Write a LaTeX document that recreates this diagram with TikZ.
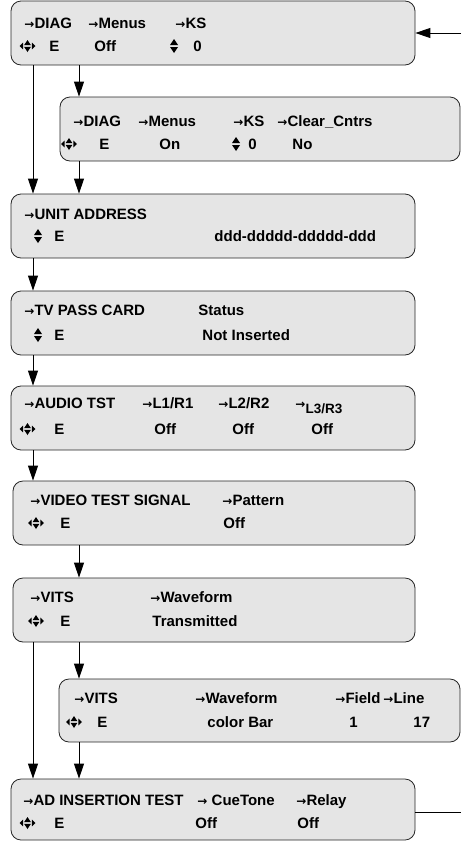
\documentclass[tikz,border=0pt]{standalone}
\usepackage{fontspec}
\setmainfont{Liberation Sans}
\newfontfamily\arrowfont{DejaVu Sans}
\usetikzlibrary{arrows.meta}
\usetikzlibrary{positioning}

\newcommand{\ra}{{\arrowfont\bfseries\fontsize{12}{12}\selectfont →}}

\tikzset{
  menubox/.style={draw=black!85, fill=black!10, line width=0.8pt, rounded corners=10pt,
    minimum width=404pt, minimum height=64pt, inner sep=0pt},
  txt/.style={anchor=west, inner sep=0pt, text height=10.7pt, text depth=0pt,
    font=\bfseries\fontsize{15}{15}\selectfont},
  updown/.pic={
    \fill (-4pt,1pt) -- (4pt,1pt) -- (0,7pt) -- cycle;
    \fill (-4pt,-1pt) -- (4pt,-1pt) -- (0,-7pt) -- cycle;},
  allway/.pic={
    \fill (-3.4pt,0.8pt) -- (3.4pt,0.8pt) -- (0,6pt) -- cycle;
    \fill (-3.4pt,-0.8pt) -- (3.4pt,-0.8pt) -- (0,-6pt) -- cycle;
    \fill (-4.4pt,3.4pt) -- (-4.4pt,-3.4pt) -- (-8pt,0) -- cycle;
    \fill (4.4pt,3.4pt) -- (4.4pt,-3.4pt) -- (8pt,0) -- cycle;},
}

\begin{document}
\begin{tikzpicture}[x=1pt, y=-1pt, >={Triangle[length=15pt,width=10pt]}, line width=0.9pt]
  \useasboundingbox (0,0) rectangle (461,841);
  \coordinate (colA) at (33,0);
  \coordinate (colB) at (79,0);
  \coordinate (inA) at (461,33);
  \coordinate (outA) at (461,812);

  % menu screens
  \node[menubox] (diag) at (213,33) {};
  \node[menubox, minimum width=400pt] (diagclr) at (260,129) {};
  \node[menubox] (unitaddr) at (213,226) {};
  \node[menubox] (passcard) at (213,323) {};
  \node[menubox] (audio) at (213,418) {};
  \node[menubox, minimum width=402pt] (video) at (214,513) {};
  \node[menubox, minimum width=402pt] (vits) at (214,610) {};
  \node[menubox, minimum width=401pt, minimum height=63pt] (vitsbar) at (259.5,710.5) {};
  \node[menubox, minimum height=61pt] (adins) at (213,809.5) {};

  % DIAG
  \node[txt] (d1) at (24,23) {\ra DIAG};
  \node[txt] (d1m) at (88,23) {\ra Menus};
  \node[txt] (d1k) at (175,23) {\ra KS};
  \pic at (27.5,46) {allway};
  \node[txt] (d1e) at (49,46) {E};
  \node[txt] (d1o) at (94,46) {Off};
  \pic at (174,46) {updown};
  \node[txt] (d1z) at (193,46) {0};

  % DIAG, clear counters
  \node[txt] (d2) at (73,121) {\ra DIAG};
  \node[txt] (d2m) at (138,121) {\ra Menus};
  \node[txt] (d2k) at (233,121) {\ra KS};
  \node[txt] (d2c) at (277,121) {\ra Clear\_Cntrs};
  \pic at (69,144) {allway};
  \node[txt] (d2e) at (99,144) {E};
  \node[txt] (d2o) at (159,144) {On};
  \pic at (236,144) {updown};
  \node[txt] (d2z) at (248,144) {0};
  \node[txt] (d2n) at (292,144) {No};

  % UNIT ADDRESS
  \node[txt] (u1) at (24,214) {\ra UNIT ADDRESS};
  \pic at (38,236) {updown};
  \node[txt] (u1e) at (54,236) {E};
  \node[txt] (u1d) at (214,236) {ddd-ddddd-ddddd-ddd};

  % TV PASS CARD
  \node[txt] (p1) at (24,310) {\ra TV PASS CARD};
  \node[txt] (p1s) at (198,310) {Status};
  \pic at (38,335) {updown};
  \node[txt] (p1e) at (54,335) {E};
  \node[txt] (p1n) at (202,335) {Not Inserted};

  % AUDIO TST
  \node[txt] (a1) at (24,403) {\ra AUDIO TST};
  \node[txt] (a1l) at (142,403) {\ra L1/R1};
  \node[txt] (a2l) at (218,403) {\ra L2/R2};
  \node[txt] (a3l) at (295,403) {\ra\raisebox{-5pt}{\fontsize{13.5}{13.5}\selectfont L3/R3}};
  \pic at (27.5,429) {allway};
  \node[txt] (a1e) at (54,429) {E};
  \node[txt] (a1o) at (154,429) {Off};
  \node[txt] (a2o) at (232,429) {Off};
  \node[txt] (a3o) at (311,429) {Off};

  % VIDEO TEST SIGNAL
  \node[txt] (v1) at (30,500) {\ra VIDEO TEST SIGNAL};
  \node[txt] (v1p) at (222,500) {\ra Pattern};
  \pic at (36,523) {allway};
  \node[txt] (v1e) at (60,523) {E};
  \node[txt] (v1o) at (223,523) {Off};

  % VITS
  \node[txt] (w1) at (30,597) {\ra VITS};
  \node[txt] (w1f) at (150,597) {\ra Waveform};
  \pic at (36,621) {allway};
  \node[txt] (w1e) at (60,621) {E};
  \node[txt] (w1t) at (152,621) {Transmitted};

  % VITS, color bar
  \node[txt] (w2) at (74,698) {\ra VITS};
  \node[txt] (w2f) at (195,698) {\ra Waveform};
  \node[txt] (w2d) at (335,698) {\ra Field};
  \node[txt] (w2l) at (383,698) {\ra Line};
  \pic at (74,722) {allway};
  \node[txt] (w2e) at (97,722) {E};
  \node[txt] (w2c) at (207,722) {color Bar};
  \node[txt] (w2n) at (349,722) {1};
  \node[txt] (w2m) at (413,722) {17};

  % AD INSERTION TEST
  \node[txt] (i1) at (23,800) {\ra AD INSERTION TEST};
  \node[txt] (i1c) at (197,800) {\ra\ CueTone};
  \node[txt] (i1r) at (296,800) {\ra Relay};
  \pic at (27.5,823) {allway};
  \node[txt] (i1e) at (54,823) {E};
  \node[txt] (i1o) at (195,823) {Off};
  \node[txt] (i2o) at (297,823) {Off};

  % connectors
  \draw[->] (inA) -- (diag.east |- inA);
  \draw[->] (diag.south -| colB) -- (diagclr.north -| colB);
  \draw[->] (diag.south -| colA) -- (unitaddr.north -| colA);
  \draw[->] (diagclr.south -| colB) -- (unitaddr.north -| colB);
  \draw[->] (unitaddr.south -| colA) -- (passcard.north -| colA);
  \draw[->] (passcard.south -| colA) -- (audio.north -| colA);
  \draw[->] (audio.south -| colA) -- (video.north -| colA);
  \draw[->] (video.south -| colB) -- (vits.north -| colB);
  \draw[->] (vits.south -| colB) -- (vitsbar.north -| colB);
  \draw[->] (vits.south -| colA) -- (adins.north -| colA);
  \draw[->] (vitsbar.south -| colB) -- (adins.north -| colB);
  \draw (adins.east |- outA) -- (outA);
\end{tikzpicture}
\end{document}
